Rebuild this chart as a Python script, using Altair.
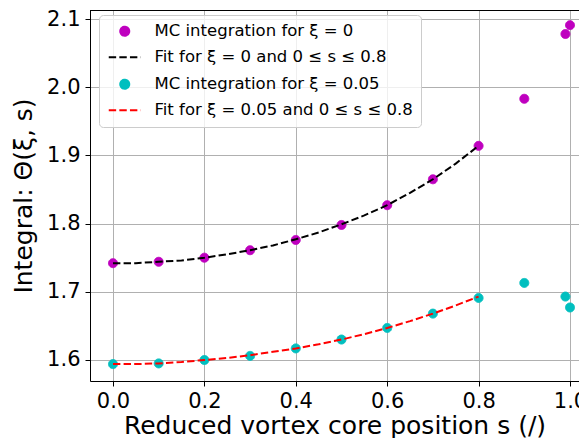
import altair as alt
import pandas as pd

# ---- data ----
s_mc = [0.0, 0.1, 0.2, 0.3, 0.4, 0.5, 0.6, 0.7, 0.8, 0.9, 0.99, 1.0]
theta_xi0 = [1.742, 1.744, 1.750, 1.761, 1.776, 1.798, 1.827, 1.865, 1.914, 1.983, 2.078, 2.091]
theta_xi005 = [1.594, 1.595, 1.600, 1.606, 1.617, 1.630, 1.647, 1.668, 1.691, 1.713, 1.693, 1.677]

s_fit = [0.0, 0.05, 0.1, 0.15, 0.2, 0.25, 0.3, 0.35, 0.4, 0.45, 0.5, 0.55, 0.6, 0.65, 0.7, 0.75, 0.8]
fit_xi0 = [1.742, 1.742, 1.744, 1.746, 1.750, 1.755, 1.761, 1.768, 1.777, 1.787, 1.799,
           1.812, 1.827, 1.845, 1.865, 1.888, 1.914]
fit_xi005 = [1.594, 1.594, 1.595, 1.597, 1.600, 1.603, 1.607, 1.612, 1.617, 1.623, 1.630,
             1.638, 1.647, 1.657, 1.668, 1.680, 1.693]

legend_labels = [
    "MC integration for ξ = 0",
    "Fit for ξ = 0 and 0 ≤ s ≤ 0.8",
    "MC integration for ξ = 0.05",
    "Fit for ξ = 0.05 and 0 ≤ s ≤ 0.8",
]
series_colors = ["#bf00bf", "#000000", "#00bfbf", "#ff0000"]
dash_path = "M-3.2,0H3.2"
series_shapes = ["circle", dash_path, "circle", dash_path]
series_sizes = [81, 100, 81, 100]
series_dash = [[1, 0], [7.4, 3.2], [1, 0], [7.4, 3.2]]

x_ticks = [0.0, 0.2, 0.4, 0.6, 0.8, 1.0]
y_ticks = [1.6, 1.7, 1.8, 1.9, 2.0, 2.1]

# ---- tables ----
mc = pd.DataFrame({
    "s": s_mc * 2,
    "theta": theta_xi0 + theta_xi005,
    "series": [legend_labels[0]] * len(s_mc) + [legend_labels[2]] * len(s_mc),
})
fit0 = pd.DataFrame({"s": s_fit, "theta": fit_xi0})
fit1 = pd.DataFrame({"s": s_fit, "theta": fit_xi005})

W, H = 489, 371
xscale = alt.Scale(domain=[-0.0503, 1.0197], nice=False, zero=False)
yscale = alt.Scale(domain=[1.5692, 2.1132], nice=False, zero=False)

xenc = alt.X("s:Q", scale=xscale,
             axis=alt.Axis(values=x_ticks, format=".1f", title="Reduced vortex core position s (/)"))
yenc = alt.Y("theta:Q", scale=yscale,
             axis=alt.Axis(values=y_ticks, format=".1f", title="Integral: Θ(ξ, s)"))

legend = alt.Legend(
    title=None, orient="none", legendX=9, legendY=5,
    fillColor="rgba(255,255,255,0.8)", strokeColor="#cccccc", cornerRadius=4,
    padding=8, rowPadding=9, symbolOffset=9.5, labelOffset=21.5,
    labelFontSize=16.5, labelLimit=500,
    labelFont="DejaVu Sans", labelColor="black", symbolStrokeWidth=2,
)

def sc(rng):
    return alt.Scale(type="ordinal", domain=legend_labels, range=rng)

points = alt.Chart(mc).mark_point(filled=True, opacity=1, strokeWidth=1).encode(
    x=xenc, y=yenc,
    fill=alt.Fill("series:N", scale=sc(series_colors), legend=legend),
    stroke=alt.Stroke("series:N", scale=sc(series_colors), legend=legend),
    shape=alt.Shape("series:N", scale=sc(series_shapes), legend=legend),
    size=alt.Size("series:N", scale=sc(series_sizes), legend=legend),
    strokeDash=alt.StrokeDash("series:N", scale=sc(series_dash), legend=legend),
)

line0 = alt.Chart(fit0).mark_line(color="black", strokeWidth=2, strokeDash=[7.4, 3.2]).encode(x=xenc, y=yenc)
line1 = alt.Chart(fit1).mark_line(color="#ff0000", strokeWidth=2, strokeDash=[7.4, 3.2]).encode(x=xenc, y=yenc)

top = alt.Chart(pd.DataFrame({"a": [0]})).mark_rule(color="black", strokeWidth=1).encode(
    x=alt.value(0), x2=alt.value(W), y=alt.value(0.5)
)

chart = alt.layer(points, line0, line1, top).properties(
    width=W, height=H,
    autosize=alt.AutoSizeParams(type="none"),
    padding={"left": 82, "top": 2, "right": 0, "bottom": 57},
).configure_view(stroke=None).configure_axis(
    labelFont="DejaVu Sans", titleFont="DejaVu Sans",
    labelFontSize=21, titleFontSize=25, titleFontWeight="normal",
    labelColor="black", titleColor="black",
    domainColor="black", domainWidth=1, tickColor="black", tickSize=5, tickWidth=1,
    gridColor="#b0b0b0", gridWidth=1, labelPadding=4,
).configure_axisX(titlePadding=2).configure_axisY(titlePadding=10, labelPadding=5)

chart.save("out.html", embed_options={"renderer": "svg", "actions": False})
